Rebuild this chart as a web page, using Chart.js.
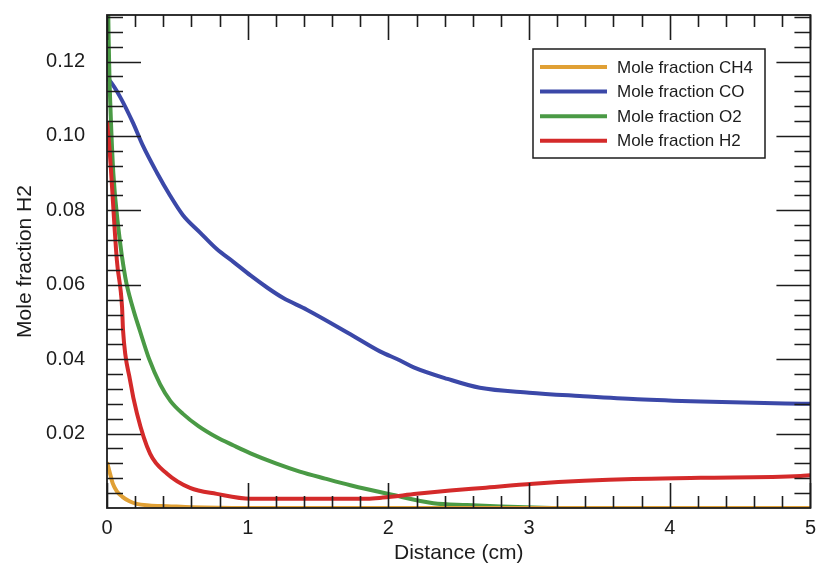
<!DOCTYPE html>
<html>
<head>
<meta charset="utf-8">
<title>Mole fraction vs distance</title>
<script src="https://cdn.jsdelivr.net/npm/chart.js@4.4.1/dist/chart.umd.min.js"></script>
<style>
  html, body { margin: 0; padding: 0; background: #fff; }
  #wrap { width: 816px; height: 570px; }
</style>
</head>
<body>
<div id="wrap"><canvas id="grafico"></canvas></div>
<script>
// Datos (distancia en cm, fraccion molar)
const seriesLabels = ['Mole fraction CH4', 'Mole fraction CO', 'Mole fraction O2', 'Mole fraction H2'];
const seriesColors = ['#e0a035', '#3b48a8', '#4a9a45', '#d42a2a'];

const distCH4 = [0, 0.02, 0.04, 0.07, 0.11, 0.16, 0.21, 0.3, 0.43, 0.6, 1, 2, 3, 4, 5];
const valCH4  = [0.0123, 0.0095, 0.0067, 0.0045, 0.003, 0.0018, 0.0011, 0.0007, 0.0005, 0.0002, 0, 0, 0, 0, 0];

const distCO = [0, 0.02, 0.09, 0.185, 0.256, 0.355, 0.448, 0.54, 0.66, 0.78, 0.9, 1.02, 1.14, 1.25, 1.42,
                1.73, 1.94, 2.08, 2.18, 2.42, 2.65, 3.0, 3.36, 3.77, 4.22, 4.82, 5];
const valCO  = [0.1155, 0.1148, 0.1107, 0.1035, 0.0973, 0.0901, 0.084, 0.0787, 0.0741, 0.0696, 0.0661, 0.0625,
                0.0592, 0.0565, 0.0533, 0.0467, 0.0421, 0.0397, 0.0378, 0.0347, 0.0323, 0.031, 0.0301, 0.0292,
                0.0286, 0.0281, 0.028];

const distO2 = [0, 0.005, 0.015, 0.025, 0.045, 0.08, 0.13, 0.185, 0.235, 0.3, 0.377, 0.45, 0.54, 0.65, 0.78,
                0.9, 1.02, 1.2, 1.37, 1.55, 1.73, 2.01, 2.32, 2.56, 2.8, 3.1, 3.3, 4, 5];
const valO2  = [0.2, 0.15, 0.12, 0.107, 0.09, 0.0755, 0.062, 0.0536, 0.0475, 0.04, 0.0333, 0.0288, 0.0253,
                0.022, 0.019, 0.0168, 0.0147, 0.012, 0.0098, 0.0079, 0.0061, 0.0037, 0.0013, 0.0008, 0.0004,
                0.0001, 0, 0, 0];

const distH2 = [0, 0.01, 0.02, 0.07, 0.107, 0.114, 0.164, 0.213, 0.306, 0.427, 0.59, 0.78, 1.02, 1.85, 1.96,
                2.2, 2.44, 2.67, 3.03, 3.39, 3.74, 4.22, 4.93, 5];
const valH2  = [0.104, 0.1, 0.0954, 0.0666, 0.054, 0.0478, 0.0343, 0.0254, 0.0146, 0.0092, 0.0054, 0.0038,
                0.0025, 0.0025, 0.0028, 0.0038, 0.0047, 0.0054, 0.0065, 0.0073, 0.0078, 0.0081, 0.0086, 0.0088];

const xTickValues = [0, 1, 2, 3, 4, 5];
const yTickValues = [0.02, 0.04, 0.06, 0.08, 0.10, 0.12];

const fuente = '"Liberation Sans", Arial, Helvetica, sans-serif';
const tinta = '#1c1c1c';

function puntos(xs, ys) {
  return xs.map((x, i) => ({ x: x, y: ys[i] }));
}

const datosSeries = [
  puntos(distCH4, valCH4),
  puntos(distCO, valCO),
  puntos(distO2, valO2),
  puntos(distH2, valH2)
];

// Marco y marcas hacia dentro en los cuatro lados
const marcoPlugin = {
  id: 'marco',
  afterDatasetsDraw(chart) {
    const { ctx, chartArea: a, scales: { x, y } } = chart;
    ctx.save();
    ctx.strokeStyle = tinta;
    ctx.lineWidth = 1.6;
    ctx.beginPath();
    // eje x: principales cada 1, menores cada 0.2
    for (let i = 0; i <= 25; i++) {
      const px = Math.round(x.getPixelForValue(i * 0.2)) + 0.5;
      const len = (i % 5 === 0) ? 25 : 12;
      ctx.moveTo(px, a.bottom); ctx.lineTo(px, a.bottom - len);
      ctx.moveTo(px, a.top); ctx.lineTo(px, a.top + len);
    }
    // eje y: principales cada 0.02, menores cada 0.004
    for (let j = 1; j <= 33; j++) {
      const v = j * 0.004;
      if (v > y.max) break;
      const py = Math.round(y.getPixelForValue(v)) + 0.5;
      const len = (j % 5 === 0) ? 34 : 16;
      ctx.moveTo(a.left, py); ctx.lineTo(a.left + len, py);
      ctx.moveTo(a.right, py); ctx.lineTo(a.right - len, py);
    }
    ctx.stroke();
    ctx.lineWidth = 1.8;
    ctx.strokeRect(a.left, a.top, a.right - a.left, a.bottom - a.top);
    ctx.restore();
  }
};

// Leyenda con recuadro dentro del area del grafico
const leyendaPlugin = {
  id: 'leyendaCaja',
  afterDraw(chart) {
    const { ctx } = chart;
    const bx = 533, by = 49, bw = 232, bh = 109;
    ctx.save();
    ctx.fillStyle = '#fff';
    ctx.fillRect(bx, by, bw, bh);
    ctx.strokeStyle = tinta;
    ctx.lineWidth = 1.5;
    ctx.strokeRect(bx, by, bw, bh);
    ctx.font = '17px ' + fuente;
    ctx.textBaseline = 'middle';
    chart.data.datasets.forEach((ds, i) => {
      const yy = by + 18 + i * 24.6;
      ctx.strokeStyle = ds.borderColor;
      ctx.lineWidth = 4;
      ctx.beginPath();
      ctx.moveTo(bx + 7, yy);
      ctx.lineTo(bx + 74, yy);
      ctx.stroke();
      ctx.fillStyle = tinta;
      ctx.fillText(ds.label, bx + 84, yy + 1);
    });
    ctx.restore();
  }
};

const ctx = document.getElementById('grafico').getContext('2d');
const grafico = new Chart(ctx, {
  type: 'line',
  data: {
    datasets: seriesLabels.map((lab, i) => ({
      label: lab,
      data: datosSeries[i],
      borderColor: seriesColors[i],
      backgroundColor: seriesColors[i],
      borderWidth: 4,
      pointRadius: 0,
      cubicInterpolationMode: 'monotone',
      fill: false,
      order: [1, 4, 3, 2][i]
    }))
  },
  options: {
    responsive: true,
    maintainAspectRatio: false,
    animation: false,
    layout: { padding: { top: 15, right: 0, left: 0, bottom: 0 } },
    plugins: {
      legend: { display: false },
      tooltip: { enabled: false }
    },
    scales: {
      x: {
        type: 'linear',
        min: 0,
        max: 5,
        afterBuildTicks(scale) {
          scale.ticks = xTickValues.map(v => ({ value: v }));
        },
        afterFit(scale) { scale.height = 62; },
        grid: { display: false },
        border: { display: false },
        ticks: {
          color: tinta,
          font: { family: fuente, size: 20 },
          padding: 0,
          maxRotation: 0,
          callback: v => String(v)
        },
        title: {
          display: true,
          text: 'Distance (cm)',
          color: tinta,
          font: { family: fuente, size: 21 },
          padding: { top: 0, bottom: 4 }
        }
      },
      y: {
        type: 'linear',
        min: 0,
        max: 0.1325,
        afterBuildTicks(scale) {
          scale.ticks = yTickValues.map(v => ({ value: v }));
        },
        afterFit(scale) {
          scale.width = 107;
          scale.paddingTop = 0;
          scale.paddingBottom = 0;
        },
        grid: { display: false },
        border: { display: false },
        ticks: {
          color: tinta,
          font: { family: fuente, size: 20 },
          padding: 14,
          callback: v => v.toFixed(2)
        },
        title: {
          display: true,
          text: 'Mole fraction H2',
          color: tinta,
          font: { family: fuente, size: 21 },
          padding: { top: 13, bottom: 0 }
        }
      }
    }
  },
  plugins: [marcoPlugin, leyendaPlugin]
});
</script>
</body>
</html>
